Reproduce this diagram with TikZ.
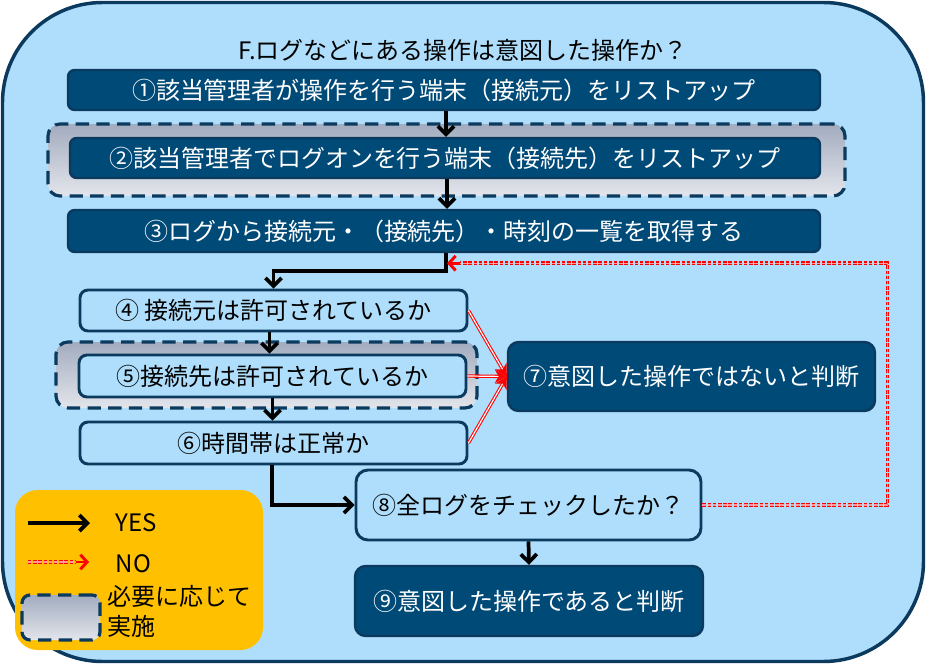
\documentclass[tikz,border=0pt]{standalone}
\usepackage{fontspec}
\setmainfont{Noto Sans CJK JP}
\usetikzlibrary{arrows.meta,calc}
\definecolor{bg}{HTML}{AEDEFB}
\definecolor{navy}{HTML}{0B3A5E}
\definecolor{dbox}{HTML}{004A78}
\definecolor{gtop}{HTML}{A2ACBF}
\definecolor{gbot}{HTML}{E3E5EB}
\definecolor{legendc}{HTML}{FFC000}
\def\px{0.75pt}
\begin{document}
\begin{tikzpicture}[x=0.75pt,y=-0.75pt, font=\fontsize{18}{21}\selectfont,
  darkbox/.style={draw=navy, line width=1.8pt, fill=dbox, text=white, rounded corners=5pt, inner sep=0pt},
  lightbox/.style={draw=navy, line width=2.2pt, fill=bg, text=black, rounded corners=6pt, inner sep=0pt},
  optbox/.style={draw=navy, line width=2.4pt, dash pattern=on 10pt off 5.5pt, top color=gtop, bottom color=gbot, rounded corners=9pt, inner sep=0pt},
  yes/.style={draw=black, line width=2.8pt, -{Straight Barb[length=6pt,width=12pt]}},
  redno/.style={draw=red, line width=0.8pt, double=white, double distance=0.9pt, -{Stealth[length=9pt,width=10pt]}},
  loopno/.style={draw=red, line width=1pt, double=white!60!red, double distance=0.8pt, dash pattern=on 2.6pt off 1.3pt},
  notip/.style={draw=red, line width=2.2pt, -{Straight Barb[length=5pt,width=11pt]}},
]
\useasboundingbox (0,0) rectangle (926,664);
% frame
\draw[navy, line width=2.6pt, fill=bg, rounded corners=75pt] (2.5,2.5) rectangle (923.5,661.5);

\node (title) at (463,50) {F.ログなどにある操作は意図した操作か？};

% optional outer boxes
\node[optbox, minimum width=797*\px, minimum height=72*\px] (o2) at (446.5,160) {};
\node[optbox, minimum width=421*\px, minimum height=66*\px] (o5) at (266.5,375) {};

% steps
\node[darkbox, minimum width=752*\px, minimum height=40*\px] (b1) at (444,90) {①該当管理者が操作を行う端末（接続元）をリストアップ};
\node[darkbox, minimum width=750*\px, minimum height=40*\px] (b2) at (445,158) {②該当管理者でログオンを行う端末（接続先）をリストアップ};
\node[darkbox, minimum width=752*\px, minimum height=42*\px] (b3) at (444,231) {③ログから接続元・（接続先）・時刻の一覧を取得する};
\node[lightbox, minimum width=387*\px, minimum height=41*\px] (b4) at (273.5,310.5) {④ 接続元は許可されているか};
\node[lightbox, minimum width=387*\px, minimum height=42*\px] (b5) at (272.5,376) {⑤接続先は許可されているか};
\node[lightbox, minimum width=387*\px, minimum height=42*\px] (b6) at (273.5,443) {⑥時間帯は正常か};
\node[darkbox, rounded corners=8pt, minimum width=367*\px, minimum height=69*\px] (b7) at (691.5,376.5) {⑦意図した操作ではないと判断};
\node[lightbox, rounded corners=9pt, minimum width=345*\px, minimum height=70*\px] (b8) at (528.5,505) {⑧全ログをチェックしたか？};
\node[darkbox, rounded corners=8pt, minimum width=348*\px, minimum height=70*\px] (b9) at (529,601) {⑨意図した操作であると判断};

% YES connectors
\draw[yes] ([xshift=1.5pt]b1.south) -- ([xshift=1.5pt]b1.south |- b2.north);
\draw[yes] ([xshift=1.5pt]b2.south) -- ([xshift=1.5pt]b2.south |- b3.north);
\coordinate (j) at ($(b3.south)+(2,10)$);
\draw[yes] ([xshift=1.5pt]b3.south) -- ++(0,18) -| (b4.north);
\draw[yes] ([xshift=-3pt]b4.south) -- ([xshift=-3pt]b4.south |- b5.north);
\draw[yes] (b5.south) -- (b5.south |- b6.north);
\draw[yes] ([xshift=-1pt]b6.south) |- (b8.west);
\draw[yes] (b8.south) -- (b9.north);

% NO connectors
\draw[redno] (b4.east) -- (b7.west);
\draw[redno] (b5.east) -- (b7.west);
\draw[redno] (b6.east) -- (b7.west);
\coordinate (jr) at ($(j)+(14,0)$);
\draw[loopno] (b8.east) -- ++(185,0) |- (jr);
\draw[notip] (jr) -- ($(j)+(1,0)$);

% legend
\draw[fill=legendc, draw=none, rounded corners=17pt] (15,490) rectangle (263,650);
\coordinate (ly1) at (28,523); \coordinate (ly2) at (90,523);
\draw[yes] (ly1) -- (ly2);
\node[anchor=west] (lyes) at (111,523) {YES};
\coordinate (ln1) at (28,562); \coordinate (ln2) at (76,562); \coordinate (ln3) at (89,562);
\draw[loopno] (ln1) -- (ln2);
\draw[notip] (ln2) -- (ln3);
\node[anchor=west] (lno) at (111,564) {NO};
\node[optbox, rounded corners=6pt, minimum width=78*\px, minimum height=45*\px] (lopt) at (61,617.5) {};
\node[anchor=north west, align=left, inner sep=0pt, font=\fontsize{18}{22.5}\selectfont] (ltxt) at (107,585) {必要に応じて\\実施};
\end{tikzpicture}
\end{document}
